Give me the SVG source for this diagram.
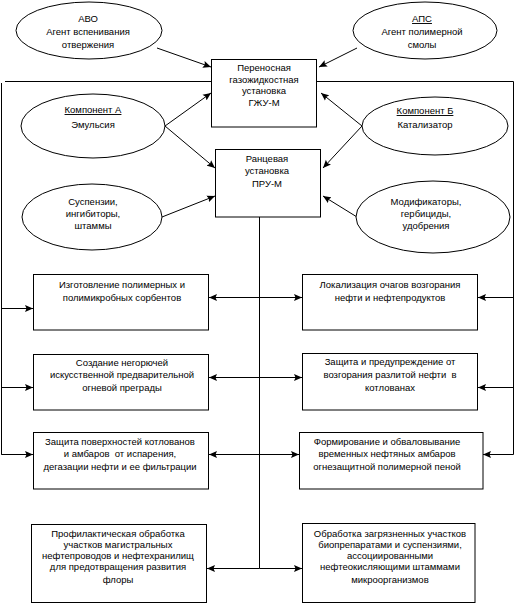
<svg xmlns="http://www.w3.org/2000/svg" width="515" height="606" viewBox="0 0 515 606">
<style>
.n{fill:#fff;stroke:#000;stroke-width:1}
.t{font-family:"Liberation Sans",Arial,sans-serif;font-size:9.5px;fill:#000;text-anchor:middle}
.u{text-decoration:underline}
.c{stroke:#000;stroke-width:1;fill:none}
.a{marker-end:url(#ah)}
</style>
<defs>
<marker id="ah" markerUnits="userSpaceOnUse" markerWidth="9" markerHeight="8" refX="8" refY="4" orient="auto">
<path d="M0,0.5 L8,4 L0,7.5 L1.5,4 z" fill="#000"/>
</marker>
</defs>
<rect width="515" height="606" fill="#fff"/>
<g id="connectors">
<line class="c a" x1="157" y1="48" x2="211" y2="67"/>
<line class="c a" x1="357" y1="48" x2="319" y2="67"/>
<line class="c a" x1="165" y1="126" x2="211" y2="93"/>
<line class="c a" x1="165" y1="126" x2="215" y2="168"/>
<line class="c a" x1="362" y1="126" x2="321" y2="93"/>
<line class="c a" x1="362" y1="126" x2="323" y2="168"/>
<line class="c a" x1="162" y1="217" x2="215" y2="196"/>
<line class="c a" x1="357" y1="217" x2="323" y2="196"/>
<line class="c" x1="5" y1="81.5" x2="211" y2="81.5"/>
<polyline class="c" points="1.5,83 1.5,454.5 33,454.5"/>
<line class="c a" x1="1.5" y1="308.5" x2="33" y2="308.5"/>
<line class="c a" x1="1.5" y1="387.5" x2="33" y2="387.5"/>
<line class="c a" x1="1.5" y1="454.5" x2="33" y2="454.5"/>
<polyline class="c" points="317,81.5 513.5,81.5 513.5,454.5"/>
<line class="c a" x1="513.5" y1="297.5" x2="478" y2="297.5"/>
<line class="c a" x1="513.5" y1="387.5" x2="478" y2="387.5"/>
<line class="c a" x1="513.5" y1="454.5" x2="483" y2="454.5"/>
<line class="c" x1="259.5" y1="217" x2="259.5" y2="568.5"/>
<line class="c a" x1="259.5" y1="297.5" x2="209" y2="297.5"/>
<line class="c a" x1="259.5" y1="377.5" x2="209" y2="377.5"/>
<line class="c a" x1="259.5" y1="454.5" x2="209" y2="454.5"/>
<line class="c a" x1="259.5" y1="568.5" x2="207" y2="568.5"/>
<line class="c a" x1="259.5" y1="297.5" x2="302" y2="297.5"/>
<line class="c a" x1="259.5" y1="377.5" x2="302" y2="377.5"/>
<line class="c a" x1="259.5" y1="454.5" x2="299" y2="454.5"/>
<line class="c a" x1="259.5" y1="568.5" x2="302" y2="568.5"/>
</g>
<g id="abo">
<ellipse class="n" cx="89" cy="30.5" rx="73" ry="28.5"/>
<text class="t" x="88" y="22">АВО</text>
<text class="t" x="88" y="35">Агент вспенивания</text>
<text class="t" x="88" y="48">отвержения</text>
</g>
<g id="aps">
<ellipse class="n" cx="425" cy="30.5" rx="72" ry="28.5"/>
<text class="t u" x="422" y="22">АПС</text>
<text class="t" x="422" y="35">Агент полимерной</text>
<text class="t" x="422" y="48">смолы</text>
</g>
<g id="komp-a">
<ellipse class="n" cx="93" cy="126" rx="72" ry="32"/>
<text class="t u" x="93" y="113">Компонент А</text>
<text class="t" x="93" y="128">Эмульсия</text>
</g>
<g id="komp-b">
<ellipse class="n" cx="435" cy="126" rx="73" ry="29"/>
<text class="t u" x="425" y="114">Компонент Б</text>
<text class="t" x="425" y="128">Катализатор</text>
</g>
<g id="susp">
<ellipse class="n" cx="92" cy="217" rx="70" ry="33"/>
<text class="t" x="93" y="205">Суспензии,</text>
<text class="t" x="93" y="217">ингибиторы,</text>
<text class="t" x="93" y="229">штаммы</text>
</g>
<g id="modif">
<ellipse class="n" cx="433" cy="217" rx="77" ry="36"/>
<text class="t" x="426" y="205">Модификаторы,</text>
<text class="t" x="426" y="217">гербициды,</text>
<text class="t" x="426" y="229">удобрения</text>
</g>
<g id="gzhu">
<rect class="n" x="211.5" y="59.5" width="105" height="67.5"/>
<text class="t" x="264" y="71">Переносная</text>
<text class="t" x="264" y="83">газожидкостная</text>
<text class="t" x="264" y="94">установка</text>
<text class="t" x="264" y="106">ГЖУ-М</text>
</g>
<g id="pru">
<rect class="n" x="215.5" y="149.5" width="105" height="67.5"/>
<text class="t" x="267" y="162">Ранцевая</text>
<text class="t" x="267" y="174">установка</text>
<text class="t" x="267" y="187">ПРУ-М</text>
</g>
<g id="b1">
<rect class="n" x="33.5" y="274.5" width="175" height="55.5"/>
<text class="t" x="122" y="288">Изготовление полимерных и</text>
<text class="t" x="122" y="301">полимикробных сорбентов</text>
</g>
<g id="b2">
<rect class="n" x="302.5" y="274.5" width="175" height="55.5"/>
<text class="t" x="390" y="288">Локализация очагов возгорания</text>
<text class="t" x="390" y="301">нефти и нефтепродуктов</text>
</g>
<g id="b3">
<rect class="n" x="33.5" y="354.5" width="175" height="55.5"/>
<text class="t" x="122" y="366">Создание негорючей</text>
<text class="t" x="122" y="378">искусственной предварительной</text>
<text class="t" x="122" y="391">огневой преграды</text>
</g>
<g id="b4">
<rect class="n" x="302.5" y="353.5" width="175" height="56.5"/>
<text class="t" x="390" y="365">Защита и предупреждение от</text>
<text class="t" x="390" y="378" xml:space="preserve">возгорания разлитой нефти  в</text>
<text class="t" x="390" y="391">котлованах</text>
</g>
<g id="b5">
<rect class="n" x="33.5" y="432.5" width="175" height="56.5"/>
<text class="t" x="120" y="445">Защита поверхностей котлованов</text>
<text class="t" x="120" y="457" xml:space="preserve">и амбаров  от испарения,</text>
<text class="t" x="120" y="470">дегазации нефти и ее фильтрации</text>
</g>
<g id="b6">
<rect class="n" x="299.5" y="432.5" width="183.5" height="56.5"/>
<text class="t" x="387" y="445">Формирование и обваловывание</text>
<text class="t" x="387" y="457">временных нефтяных амбаров</text>
<text class="t" x="387" y="470">огнезащитной полимерной пеной</text>
</g>
<g id="b7">
<rect class="n" x="31.5" y="524.5" width="175" height="78"/>
<text class="t" x="118" y="537">Профилактическая обработка</text>
<text class="t" x="118" y="548">участков магистральных</text>
<text class="t" x="118" y="559">нефтепроводов и нефтехранилищ</text>
<text class="t" x="118" y="570">для предотвращения развития</text>
<text class="t" x="118" y="583">флоры</text>
</g>
<g id="b8">
<rect class="n" x="302.5" y="523.5" width="172.5" height="79"/>
<text class="t" x="390" y="537">Обработка загрязненных участков</text>
<text class="t" x="390" y="548">биопрепаратами и суспензиями,</text>
<text class="t" x="390" y="559">ассоциированными</text>
<text class="t" x="390" y="570">нефтеокисляющими штаммами</text>
<text class="t" x="390" y="583">микроорганизмов</text>
</g>
</svg>
